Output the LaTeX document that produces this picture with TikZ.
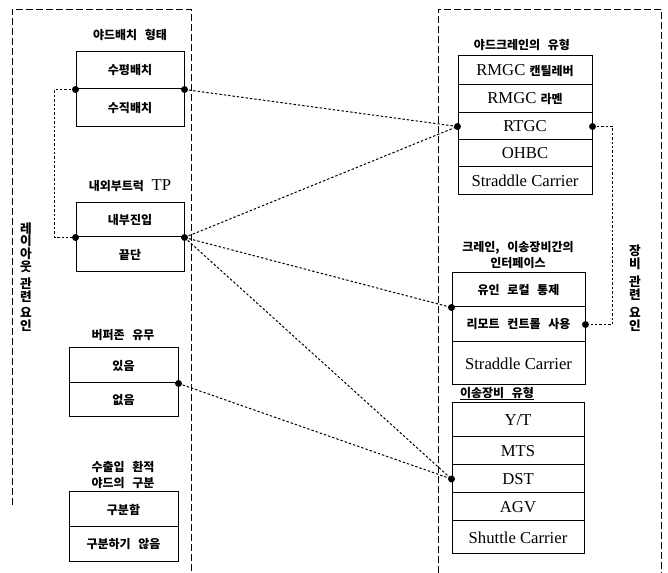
\documentclass[tikz,border=0pt]{standalone}
\usepackage{fontspec}
\setmainfont{Liberation Serif}
\newfontfamily\kr{Noto Sans CJK KR}[BoldFont={Noto Sans CJK KR Black}, WordSpace=2.8]
\newcommand{\kt}[1]{{\kr\bfseries\fontsize{9}{12}\selectfont #1}}

\tikzset{
  cell/.style={draw, line width=0.75pt, inner sep=0pt, minimum width=#1},
  kor/.style={font=\kr\bfseries\fontsize{9}{12}\selectfont},
  lat/.style={font=\fontsize{12.5}{14}\selectfont},
  head/.style={kor, align=center, inner sep=0pt},
  frame/.style={line width=0.6pt, dash pattern=on 5pt off 2.5pt},
  link/.style={line width=0.75pt, dash pattern=on 1.8pt off 1.5pt},
}

\begin{document}
\begin{tikzpicture}[x=0.75pt, y=-0.75pt]
      \useasboundingbox (0,0) rectangle (668,573);

      % outer frames
      \draw[frame] (12,505) -- (12,9) -- (191,9) -- (191,573);
      \draw[frame] (438,573) -- (438,9) -- (661,9) -- (661,573);

      \node[head, font=\kr\bfseries\fontsize{9.5}{9.6}\selectfont] (layout) at (26,277)
        {레\\이\\아\\웃\\[3pt]관\\련\\[3pt]요\\인};
      \node[head, font=\kr\bfseries\fontsize{9.5}{9.6}\selectfont] (equip) at (635,288)
        {장\\비\\[4pt]관\\련\\[4pt]요\\인};

      % left column
      \node[head] (arrange) at (130,35) {야드배치 형태};
      \node[cell=81pt, minimum height=27.75pt, kor] (horiz) at (130,70.5) {수평배치};
      \node[cell=81pt, minimum height=28.5pt, kor] (vert) at (130,108) {수직배치};

      \node[head] (truck) at (130,186) {내외부트럭 {\rmfamily\mdseries\fontsize{12.5}{14}\selectfont TP}};
      \node[cell=81pt, minimum height=25.5pt, kor] (inner) at (130,220) {내부진입};
      \node[cell=81pt, minimum height=26.25pt, kor] (end) at (130,254.5) {끝단};

      \node[head] (buffer) at (123,335) {버퍼존 유무};
      \node[cell=81.75pt, minimum height=26.25pt, kor] (yes) at (123.5,365.5) {있음};
      \node[cell=81.75pt, minimum height=25.5pt, kor] (no) at (123.5,400) {없음};

      \node[head] (split) at (123,475) {수출입 환적\\야드의 구분};
      \node[cell=81.75pt, minimum height=26.25pt, kor] (sep) at (123.5,509.5) {구분함};
      \node[cell=81.75pt, minimum height=26.25pt, kor] (nosep) at (123.5,544.5) {구분하기 않음};

      % right column
      \node[head] (crane) at (522,45) {야드크레인의 유형};
      \node[cell=100.5pt, minimum height=21.75pt, lat] (cantilever) at (525,70.5) {RMGC \kt{캔틸레버}};
      \node[cell=100.5pt, minimum height=21pt, lat] (portal) at (525,99) {RMGC \kt{라멘}};
      \node[cell=100.5pt, minimum height=20.25pt, lat] (rtgc) at (525,126.5) {RTGC};
      \node[cell=100.5pt, minimum height=20.25pt, lat] (ohbc) at (525,153.5) {OHBC};
      \node[cell=100.5pt, minimum height=21pt, lat] (sc1) at (525,181) {Straddle Carrier};

      \node[head] (iface) at (518,255) {크레인, 이송장비간의\\인터페이스};
      \node[cell=99.75pt, minimum height=25.5pt, kor] (manned) at (518.5,290) {유인 로컬 통제};
      \node[cell=99.75pt, minimum height=26.25pt, kor] (remote) at (518.5,324.5) {리모트 컨트롤 사용};
      \node[cell=99.75pt, minimum height=32.25pt, lat] (sc2) at (518.5,363.5) {Straddle Carrier};

      \node[head] (move) at (497,393) {이송장비 유형};
      \draw[line width=0.6pt] (move.south west) -- (move.south east);
      \node[cell=99pt, minimum height=25.5pt, lat] (yt) at (518,420) {Y/T};
      \node[cell=99pt, minimum height=21pt, lat] (mts) at (518,451) {MTS};
      \node[cell=99pt, minimum height=21pt, lat] (dst) at (518,479) {DST};
      \node[cell=99pt, minimum height=21pt, lat] (agv) at (518,507) {AGV};
      \node[cell=99pt, minimum height=24.75pt, lat] (shuttle) at (518,537.5) {Shuttle Carrier};

      % links
      \draw[link] (horiz.south west) -- ++(-21,0) |- (inner.south west);
      \draw[link] (rtgc.east) -- ++(20,0) |- (remote.east);
      \draw[link] (horiz.south east) to (rtgc.west);
      \draw[link] (inner.south east) to (rtgc.west);
      \draw[link] (inner.south east) to (manned.south west);
      \draw[link] (inner.south east) to (dst.west);
      \draw[link] (yes.south east) to (dst.west);

      \foreach \p in {horiz.south west, horiz.south east, inner.south west, inner.south east,
                      yes.south east, rtgc.west, rtgc.east, manned.south west, remote.east, dst.west}
        \fill (\p) circle (2.6pt);
    \end{tikzpicture}
\end{document}
